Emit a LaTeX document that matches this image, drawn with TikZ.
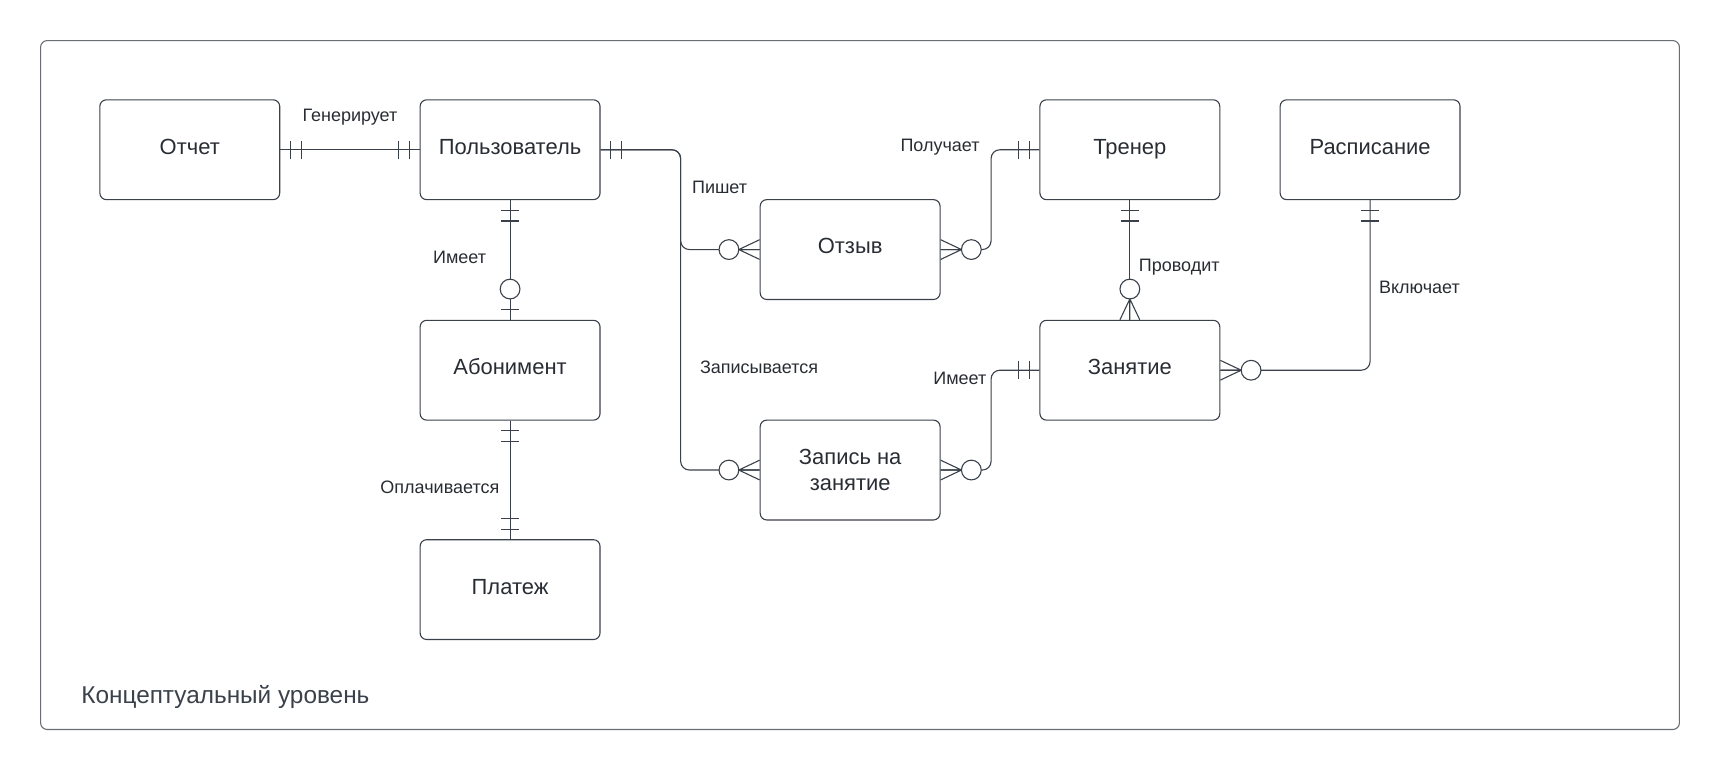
\documentclass[tikz,border=0pt]{standalone}
\usepackage{fontspec}
\setmainfont{Liberation Sans}
\usetikzlibrary{calc}
\definecolor{ln}{HTML}{3A414A}
\definecolor{tx}{HTML}{282C33}
\definecolor{fr}{HTML}{6A6E73}
\tikzset{
  every picture/.style={x=1pt,y=-1pt},
  entity/.style={draw=ln, line width=1pt, rounded corners=6pt, minimum width=164pt, minimum height=91pt, inner sep=0pt, align=center, text=tx, font=\fontsize{20}{24}\selectfont},
  oneline/.style={text height=14pt, text depth=6pt},
  rel/.style={text=tx, font=\fontsize{16.4}{19}\selectfont, inner sep=0pt},
  conn/.style={draw=ln, line width=1pt, rounded corners=8pt},
  mk/.style={draw=ln, line width=1pt},
  onlyone/.pic={\draw[mk] (9,-8)--(9,8) (19,-8)--(19,8);},
  zeromany/.pic={\draw[mk] (19,0)--(0,-9) (19,0)--(0,0) (19,0)--(0,9); \draw[mk, fill=white] (28,0) circle (9pt);},
  zeroone/.pic={\draw[mk] (9,-8)--(9,8); \draw[mk, fill=white] (28,0) circle (9pt);}
}
\begin{document}
\begin{tikzpicture}
\useasboundingbox (0,0) rectangle (1568,702);
\draw[fr, line width=1pt, rounded corners=6pt] (37,37) rectangle (1531,665);
\node[anchor=west, text=ln, font=\fontsize{22.2}{26}\selectfont, inner sep=0pt] (title) at (74,635) {Концептуальный уровень};

\node[entity, oneline] (report) at (173,136.5) {Отчет};
\node[entity, oneline] (user) at (465,136.5) {Пользователь};
\node[entity, oneline] (trainer) at (1030,136.5) {Тренер};
\node[entity, oneline] (sched) at (1249,136.5) {Расписание};
\node[entity, oneline] (review) at (775,227.5) {Отзыв};
\node[entity, oneline] (sub) at (465,337.5) {Абонимент};
\node[entity, oneline] (lesson) at (1030,337.5) {Занятие};
\node[entity] (booking) at (775,428.5) {Запись на\\занятие};
\node[entity, oneline] (pay) at (465,537.5) {Платеж};

% connectors
\draw[conn] (report.east) -- (user.west);
\draw[conn] (user.east) -- ++(73,0) |- (review.west);
\draw[conn] (user.east) -- ++(73,0) |- (booking.west);
\draw[conn] (review.east) -- ++(46,0) |- (trainer.west);
\draw[conn] (booking.east) -- ++(46,0) |- (lesson.west);
\draw[conn] (trainer.south) -- (lesson.north);
\draw[conn] (sched.south) |- (lesson.east);
\draw[conn] (user.south) -- (sub.north);
\draw[conn] (sub.south) -- (pay.north);

% markers
\pic at (report.east) {onlyone};
\pic[rotate=180] at (user.west) {onlyone};
\pic at (user.east) {onlyone};
\pic[rotate=180] at (review.west) {zeromany};
\pic[rotate=180] at (booking.west) {zeromany};
\pic at (review.east) {zeromany};
\pic at (booking.east) {zeromany};
\pic[rotate=180] at (trainer.west) {onlyone};
\pic[rotate=180] at (lesson.west) {onlyone};
\pic[rotate=-90] at (trainer.south) {onlyone};
\pic[rotate=90] at (lesson.north) {zeromany};
\pic[rotate=-90] at (sched.south) {onlyone};
\pic at (lesson.east) {zeromany};
\pic[rotate=-90] at (user.south) {onlyone};
\pic[rotate=90] at (sub.north) {zeroone};
\pic[rotate=-90] at (sub.south) {onlyone};
\pic[rotate=90] at (pay.north) {onlyone};

% labels
\node[rel] (l1) at (319,107) {Генерирует};
\node[rel] (l2) at (656,171) {Пишет};
\node[rel] (l3) at (857,134) {Получает};
\node[rel] (l4) at (419,235) {Имеет};
\node[rel] (l5) at (1075,244) {Проводит};
\node[rel] (l6) at (1294,262) {Включает};
\node[rel] (l7) at (692,335) {Записывается};
\node[rel] (l8) at (875,345) {Имеет};
\node[rel] (l9) at (401,444) {Оплачивается};
\end{tikzpicture}
\end{document}
